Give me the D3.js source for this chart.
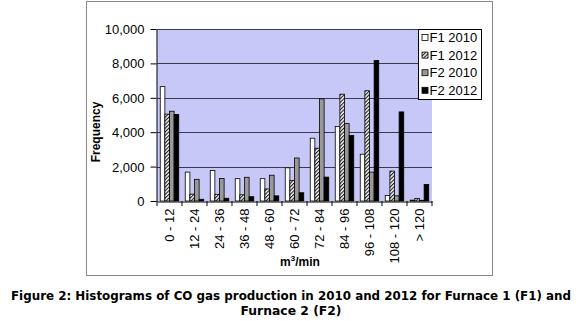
<!DOCTYPE html>
<html>
<head>
<meta charset="utf-8">
<script src="https://cdn.jsdelivr.net/npm/d3@7"></script>
<style>
  html, body { margin: 0; padding: 0; background: #fff; }
  svg { display: block; }
</style>
</head>
<body>
<div id="chart"></div>
<script>
// bins (m3/min) and counts per furnace/year
var categories = ["0 - 12", "12 - 24", "24 - 36", "36 - 48", "48 - 60", "60 - 72",
                  "72 - 84", "84 - 96", "96 - 108", "108 - 120", "> 120"];
var seriesNames = ["F1 2010", "F1 2012", "F2 2010", "F2 2012"];
var f1_2010 = [6650, 1680, 1770, 1300, 1300, 1930, 3650, 4330, 2720, 320, 50];
var f1_2012 = [5050, 400, 390, 360, 700, 1200, 3070, 6210, 6410, 1740, 150];
var f2_2010 = [5220, 1260, 1310, 1380, 1500, 2500, 5940, 4500, 1680, 300, 40];
var f2_2012 = [5030, 100, 160, 250, 300, 480, 1390, 3810, 8170, 5180, 960];
var yTicks = [0, 2000, 4000, 6000, 8000, 10000];

var seriesValues = [f1_2010, f1_2012, f2_2010, f2_2012];
var fills = ["#fff", "url(#hatch)", "#999", "#000"];

var W = 580, H = 321;
var plot = { left: 157, right: 432, top: 29, bottom: 201 };

var svg = d3.select("#chart").append("svg")
  .attr("width", W).attr("height", H)
  .style("font-family", "Arial, 'Liberation Sans', sans-serif");

// hatch pattern for F1 2012
svg.append("defs").append("pattern")
  .attr("id", "hatch")
  .attr("patternUnits", "userSpaceOnUse")
  .attr("width", 2.6).attr("height", 2.6)
  .attr("patternTransform", "rotate(45)")
  .call(function (p) {
    p.append("rect").attr("width", 2.6).attr("height", 2.6).attr("fill", "#fff");
    p.append("line").attr("x1", 0.6).attr("y1", 0).attr("x2", 0.6).attr("y2", 2.6)
      .attr("stroke", "#000").attr("stroke-width", 1);
  });

// chart frame
svg.append("rect")
  .attr("x", 86.5).attr("y", 1.5).attr("width", 406).attr("height", 274)
  .attr("fill", "#fff").attr("stroke", "#888").attr("stroke-width", 1);

// scales
var x0 = d3.scaleBand().domain(categories).range([plot.left, plot.right]);
var groupW = x0.bandwidth() * 0.74;
var x1 = d3.scaleBand().domain(seriesNames).range([0, groupW]);
var y = d3.scaleLinear().domain([0, 10000]).range([plot.bottom, plot.top]);

// plot background
svg.append("rect")
  .attr("x", plot.left).attr("y", plot.top)
  .attr("width", plot.right - plot.left).attr("height", plot.bottom - plot.top)
  .attr("fill", "#c8c8f8");

// gridlines
svg.append("g").selectAll("line")
  .data(yTicks.filter(function (d) { return d > 0; }))
  .join("line")
  .attr("x1", plot.left).attr("x2", plot.right)
  .attr("y1", function (d) { return Math.round(y(d)) + 0.5; })
  .attr("y2", function (d) { return Math.round(y(d)) + 0.5; })
  .attr("stroke", "#3a3a50").attr("stroke-width", 1);

// bars
var groups = svg.append("g").selectAll("g")
  .data(categories)
  .join("g")
  .attr("transform", function (d) {
    return "translate(" + (x0(d) + (x0.bandwidth() - groupW) / 2) + ",0)";
  });

groups.selectAll("rect")
  .data(function (c, i) {
    return seriesNames.map(function (s, si) {
      return { s: s, si: si, v: seriesValues[si][i] };
    });
  })
  .join("rect")
  .attr("x", function (d) { return x1(d.s); })
  .attr("y", function (d) { return y(d.v); })
  .attr("width", x1.bandwidth())
  .attr("height", function (d) { return y(0) - y(d.v); })
  .attr("fill", function (d) { return fills[d.si]; })
  .attr("stroke", "#000").attr("stroke-width", 0.8);

// y axis
var yAxis = svg.append("g")
  .attr("transform", "translate(" + (plot.left - 0.5) + ",0)")
  .call(d3.axisLeft(y).tickValues(yTicks).tickFormat(d3.format(",")).tickSize(6).tickSizeOuter(0));
yAxis.select(".domain").attr("stroke", "#000");
yAxis.selectAll(".tick line").attr("stroke", "#000");
yAxis.selectAll("text")
  .attr("x", -12).attr("dy", "0.35em")
  .style("font-size", "13px").style("font-family", "Arial, 'Liberation Sans', sans-serif")
  .attr("fill", "#000");

// x axis
var xAxis = svg.append("g")
  .attr("transform", "translate(0," + (plot.bottom + 0.5) + ")")
  .call(d3.axisBottom(x0).tickSize(0).tickSizeOuter(0));
xAxis.select(".domain").attr("stroke", "#000");
xAxis.selectAll(".tick text")
  .attr("transform", "rotate(-90)")
  .attr("x", -7).attr("y", 0).attr("dy", "0.35em")
  .attr("text-anchor", "end")
  .style("font-size", "13px").style("font-family", "Arial, 'Liberation Sans', sans-serif")
  .attr("fill", "#000");
// category boundary ticks
svg.append("g").selectAll("line")
  .data(categories.concat(["end"]))
  .join("line")
  .attr("x1", function (d, i) { return i < categories.length ? x0(d) : plot.right; })
  .attr("x2", function (d, i) { return i < categories.length ? x0(d) : plot.right; })
  .attr("y1", plot.bottom).attr("y2", plot.bottom + 5)
  .attr("stroke", "#000");

// axis titles
svg.append("text")
  .attr("transform", "translate(100,132) rotate(-90)")
  .attr("text-anchor", "middle")
  .style("font-size", "12px").style("font-weight", "bold")
  .text("Frequency");

svg.append("text")
  .attr("x", 280).attr("y", 266)
  .style("font-size", "12px").style("font-weight", "bold")
  .call(function (t) {
    t.append("tspan").text("m");
    t.append("tspan").attr("dy", -5).style("font-size", "8px").text("3");
    t.append("tspan").attr("dy", 5).text("/min");
  });

// legend
var legend = svg.append("g").attr("transform", "translate(418.5,29.5)");
legend.append("rect")
  .attr("width", 63).attr("height", 70)
  .attr("fill", "#fff").attr("stroke", "#000").attr("stroke-width", 1);
var items = legend.selectAll("g.item")
  .data(seriesNames)
  .join("g")
  .attr("class", "item")
  .attr("transform", function (d, i) { return "translate(0," + (8 + i * 17.6) + ")"; });
items.append("rect")
  .attr("x", 3.5).attr("y", -3).attr("width", 6).attr("height", 6)
  .attr("fill", function (d, i) { return fills[i]; })
  .attr("stroke", "#000").attr("stroke-width", 0.8);
items.append("text")
  .attr("x", 11).attr("dy", "0.36em")
  .style("font-size", "13px")
  .text(function (d) { return d; });

// caption
var caption = svg.append("g")
  .style("font-family", "'DejaVu Sans', Verdana, sans-serif")
  .style("font-weight", "bold").style("font-size", "12px")
  .attr("text-anchor", "middle");
caption.append("text").attr("x", 291).attr("y", 300)
  .attr("textLength", 560).attr("lengthAdjust", "spacingAndGlyphs")
  .text("Figure 2: Histograms of CO gas production in 2010 and 2012 for Furnace 1 (F1) and");
caption.append("text").attr("x", 291).attr("y", 315)
  .attr("textLength", 101).attr("lengthAdjust", "spacingAndGlyphs")
  .text("Furnace 2 (F2)");
</script>
</body>
</html>
